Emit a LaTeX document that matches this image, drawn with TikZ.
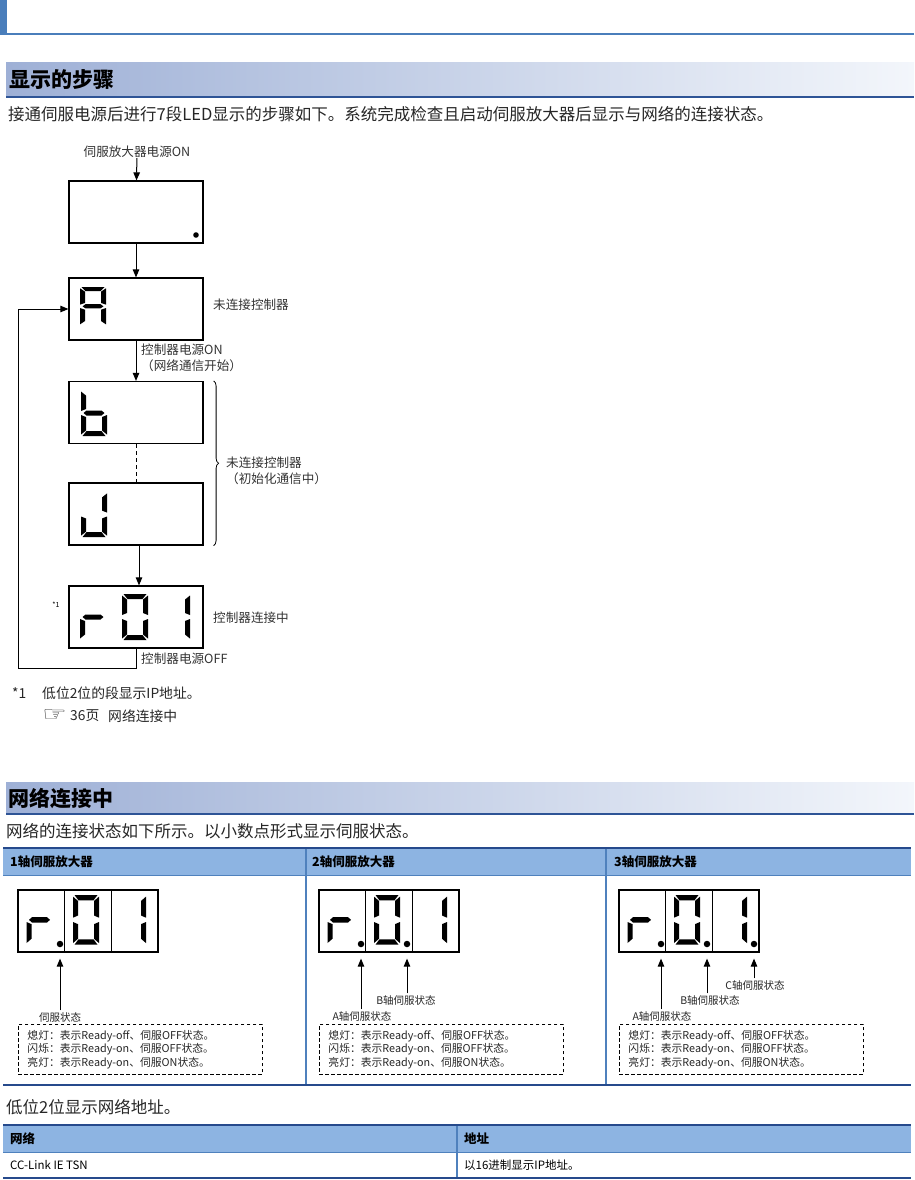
\documentclass[tikz,border=0pt]{standalone}
\usepackage{fontspec}
\setmainfont{Noto Sans CJK SC}
\newfontfamily\handfont{DejaVu Sans}
\usetikzlibrary{arrows.meta, decorations.pathreplacing}

\definecolor{barblue}{RGB}{74,126,187}
\definecolor{bandleft}{RGB}{158,176,214}
\definecolor{bandright}{RGB}{243,246,251}
\definecolor{bandline}{RGB}{46,84,150}
\definecolor{headfill}{RGB}{141,180,226}
\definecolor{rulenavy}{RGB}{38,74,140}
\definecolor{ruleblue}{RGB}{79,129,189}

% seven segment pieces, one digit is 26 x 46
\newcommand\sega{\fill (1.5,0) -- (24.5,0) -- (20.5,5) -- (5.5,5) -- cycle;}
\newcommand\segb{\fill (26,1.5) -- (26,21) -- (21,19) -- (21,5.5) -- cycle;}
\newcommand\segc{\fill (26,25) -- (26,44.5) -- (21,40.5) -- (21,27) -- cycle;}
\newcommand\segd{\fill (1.5,46) -- (24.5,46) -- (20.5,41) -- (5.5,41) -- cycle;}
\newcommand\sege{\fill (0,25) -- (0,44.5) -- (5,40.5) -- (5,27) -- cycle;}
\newcommand\segf{\fill (0,1.5) -- (0,21) -- (5,19) -- (5,5.5) -- cycle;}
\newcommand\segg{\fill (2.5,23) -- (5.5,20.5) -- (20.5,20.5) -- (23.5,23) -- (20.5,25.5) -- (5.5,25.5) -- cycle;}
\newcommand\segdigit[4][]{%
  \begin{scope}[shift={(#2,#3)},#1]
    \foreach \s in {#4} {\csname seg\s\endcsname}
  \end{scope}}

\tikzset{
  dispbox/.style={draw, line width=1.2pt, minimum width=134pt, minimum height=62pt, inner sep=0pt},
  cellbox/.style={draw, line width=1.2pt, minimum width=46.7pt, minimum height=62pt, inner sep=0pt},
  segdot/.style={circle, fill, inner sep=0pt, minimum size=6.5pt},
  flow/.style={-{Triangle[length=8pt,width=6.5pt]}, line width=1pt},
  head/.style={font=\fontsize{21}{25}\selectfont\bfseries, anchor=west, inner sep=0pt},
  body/.style={font=\fontsize{16.5}{20}\selectfont, anchor=west, inner sep=0pt, text=black!85},
  lbl/.style={font=\fontsize{12.6}{16}\selectfont, inner sep=0pt, text=black!80},
  foot/.style={font=\fontsize{13.8}{17}\selectfont, anchor=west, inner sep=0pt, text=black!85},
  th/.style={font=\fontsize{12.5}{15}\selectfont\bfseries, anchor=west, inner sep=0pt},
  td/.style={font=\fontsize{11.5}{14}\selectfont, anchor=west, inner sep=0pt},
  axlbl/.style={font=\fontsize{10.5}{13}\selectfont, inner sep=1.5pt, text=black!85},
  note/.style={draw, dash pattern=on 3.5pt off 2.5pt, line width=0.9pt, minimum width=244pt,
    minimum height=50pt, text width=226pt, align=left, inner sep=0pt, anchor=north west,
    font=\fontsize{10.8}{13.5}\selectfont, text=black!85}
}

\begin{document}
\begin{tikzpicture}[x=1pt, y=-1pt]
    \useasboundingbox (0,0) rectangle (914,1180);

    % page head
    \fill[barblue] (0,0) rectangle (7,35);
    \draw[barblue, line width=2pt] (0,34) -- (914,34);

    % section 1
    \shade[left color=bandleft, right color=bandright] (6,63) rectangle (914,96);
    \draw[bandline, line width=2pt] (6,97) -- (914,97);
    \node[head] (t1) at (9,80) {显示的步骤};
    \node[body] (b1) at (8,114) {接通伺服电源后进行7段LED显示的步骤如下。系统完成检查且启动伺服放大器后显示与网络的连接状态。};

    % displays
    \node[lbl] (pwr) at (137,152) {伺服放大器电源ON};
    \node[dispbox] (s1) at (136,212) {};
    \node[dispbox] (s2) at (136,309) {};
    \node[dispbox] (s3) at (136,412.5) {};
    \node[dispbox] (s4) at (136,514) {};
    \node[dispbox] (s5) at (136,617) {};

    \fill (196,235) circle (2.8);
    \segdigit[yscale=0.84]{80}{287}{a,b,c,e,f,g}
    \segdigit{81}{390}{c,d,e,f,g}
    \segdigit[yscale=0.98]{81}{492}{b,c,d,e}
    \segdigit{80}{594}{e,g}
    \segdigit{122}{594}{a,b,c,d,e,f}
    \segdigit{164}{594}{b,c}

    % labels
    \node[lbl, anchor=west] (nc1) at (213,305) {未连接控制器};
    \node[lbl, anchor=west, align=left] (con) at (141,358) {控制器电源ON\\（网络通信开始）};
    \node[lbl, anchor=west, align=left] (init) at (226,471) {未连接控制器\\（初始化通信中）};
    \node[lbl, anchor=west] (link) at (213,618) {控制器连接中};
    \node[font=\fontsize{7}{8}\selectfont, inner sep=0pt] (st1) at (56,605) {*1};
    \node[lbl, anchor=west] (coff) at (141,659) {控制器电源OFF};

    % arrows
    \draw[flow] (pwr) -- (s1);
    \draw[flow] (s1) -- (s2);
    \draw[flow] (s2) -- (s3);
    \draw[dash pattern=on 4pt off 3pt, line width=1pt] (s3) -- (s4);
    \draw[flow] ([xshift=3pt]s4.south) -- ([xshift=3pt]s5.north);
    \coordinate (lp) at (18,668);
    \draw[flow] (s5.south) |- (lp) |- (s2.west);
    \draw[decorate, decoration={brace, amplitude=5pt}, line width=0.8pt]
        ([xshift=10pt]s3.north east) -- ([xshift=10pt]s4.south east);

    % footnote
    \node[foot] (fn) at (12,693) {*1};
    \node[foot] (fn1) at (42,693) {低位2位的段显示IP地址。};
    \node[anchor=west, inner sep=0pt, xscale=1.3, transform shape,
          font=\handfont\fontsize{21}{22}\selectfont, text=black!75] (ref) at (42,716) {☞};
    \node[foot] (pg) at (70,716) {36页};
    \node[foot] (pgt) at (108,716) {网络连接中};

    % section 2
    \shade[left color=bandleft, right color=bandright] (6,782) rectangle (914,813);
    \draw[bandline, line width=2pt] (6,814) -- (914,814);
    \node[head] (t2) at (8,798) {网络连接中};
    \node[body] (b2) at (6,831) {网络的连接状态如下所示。以小数点形式显示伺服状态。};

    % table of amplifiers
    \fill[headfill] (3,848) rectangle (911,875);
    \draw[ruleblue, line width=1pt] (3,875) -- (911,875);
    \draw[ruleblue, line width=1.5pt] (306,848) -- (306,1085);
    \draw[ruleblue, line width=1.5pt] (606,848) -- (606,1085);
    \draw[rulenavy, line width=2.5pt] (3,848) -- (911,848);
    \draw[rulenavy, line width=2pt] (3,1085) -- (911,1085);
    \node[th] (h1) at (10,862) {1轴伺服放大器};
    \node[th] (h2) at (312,862) {2轴伺服放大器};
    \node[th] (h3) at (614,862) {3轴伺服放大器};

    % 1 axis
    \node[cellbox] (c1a) at (41.3,921) {};
    \node[cellbox] (c1b) at (88,921) {};
    \node[cellbox] (c1c) at (134.7,921) {};
    \segdigit[yscale=1.08]{26.5}{895}{e,g}
    \segdigit[yscale=1.08]{73}{895}{a,b,c,d,e,f}
    \segdigit[yscale=1.08]{120}{895}{b,c}
    \node[segdot] (p1a) at (60,944) {};
    \node[axlbl] (l1a) at (60,1017) {伺服状态};
    \draw[flow] (l1a.north -| p1a) -- ([yshift=-6pt]p1a |- c1a.south);
    \node[note] (n1) at (18,1024) {熄灯：表示Ready-off、伺服OFF状态。\\闪烁：表示Ready-on、伺服OFF状态。\\亮灯：表示Ready-on、伺服ON状态。};

    % 2 axes
    \node[cellbox] (c2a) at (342.3,921) {};
    \node[cellbox] (c2b) at (389,921) {};
    \node[cellbox] (c2c) at (435.7,921) {};
    \segdigit[yscale=1.08]{327.5}{895}{e,g}
    \segdigit[yscale=1.08]{374}{895}{a,b,c,d,e,f}
    \segdigit[yscale=1.08]{421}{895}{b,c}
    \node[segdot] (p2a) at (361,944) {};
    \node[segdot] (p2b) at (407,944) {};
    \node[axlbl] (l2a) at (362,1016) {A轴伺服状态};
    \node[axlbl] (l2b) at (406,1000) {B轴伺服状态};
    \draw[flow] (l2a.north -| p2a) -- ([yshift=-6pt]p2a |- c2a.south);
    \draw[flow] (l2b.north -| p2b) -- ([yshift=-6pt]p2b |- c2b.south);
    \node[note] (n2) at (319,1024) {熄灯：表示Ready-off、伺服OFF状态。\\闪烁：表示Ready-on、伺服OFF状态。\\亮灯：表示Ready-on、伺服ON状态。};

    % 3 axes
    \node[cellbox] (c3a) at (642.3,921) {};
    \node[cellbox] (c3b) at (689,921) {};
    \node[cellbox] (c3c) at (735.7,921) {};
    \segdigit[yscale=1.08]{627.5}{895}{e,g}
    \segdigit[yscale=1.08]{674}{895}{a,b,c,d,e,f}
    \segdigit[yscale=1.08]{721}{895}{b,c}
    \node[segdot] (p3a) at (661,944) {};
    \node[segdot] (p3b) at (707,944) {};
    \node[segdot] (p3c) at (754,944) {};
    \node[axlbl] (l3a) at (662,1016) {A轴伺服状态};
    \node[axlbl] (l3b) at (710,1000) {B轴伺服状态};
    \node[axlbl] (l3c) at (755,985) {C轴伺服状态};
    \draw[flow] (l3a.north -| p3a) -- ([yshift=-6pt]p3a |- c3a.south);
    \draw[flow] (l3b.north -| p3b) -- ([yshift=-6pt]p3b |- c3b.south);
    \draw[flow] (l3c.north -| p3c) -- ([yshift=-6pt]p3c |- c3c.south);
    \node[note] (n3) at (619,1024) {熄灯：表示Ready-off、伺服OFF状态。\\闪烁：表示Ready-on、伺服OFF状态。\\亮灯：表示Ready-on、伺服ON状态。};

    % address table
    \node[body] (b3) at (6,1107) {低位2位显示网络地址。};
    \fill[headfill] (3,1126) rectangle (911,1152);
    \draw[ruleblue, line width=1pt] (3,1152) -- (911,1152);
    \draw[ruleblue, line width=1.5pt] (457,1125) -- (457,1178);
    \draw[rulenavy, line width=2.5pt] (3,1125) -- (911,1125);
    \draw[rulenavy, line width=2pt] (3,1178) -- (911,1178);
    \node[th] (h4) at (10,1139) {网络};
    \node[th] (h5) at (464,1139) {地址};
    \node[td] (r1) at (10,1165) {CC-Link IE TSN};
    \node[td] (r2) at (464,1165) {以16进制显示IP地址。};
\end{tikzpicture}
\end{document}
